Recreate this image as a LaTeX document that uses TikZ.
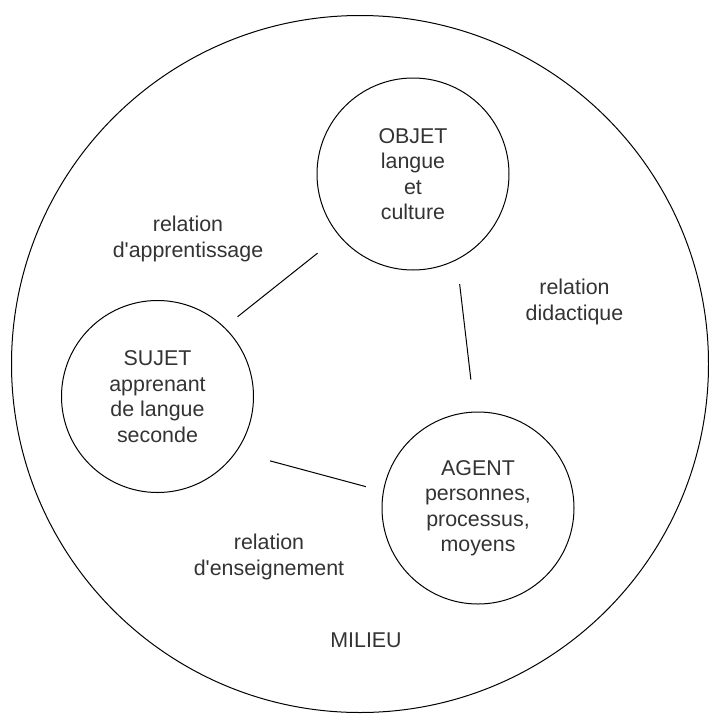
\documentclass[tikz,border=0pt]{standalone}
\usepackage{fontspec}
\setmainfont{Liberation Sans}
\usepackage{tikz}
\usetikzlibrary{positioning}

\begin{document}
\begin{tikzpicture}[
		x=1pt, y=-1pt,
		font=\fontsize{21.4}{25.5}\selectfont,
		pole/.style={circle, draw, line width=1pt, minimum size=192pt, inner sep=0pt, align=center, text=black!80},
		milieu/.style={circle, draw, line width=1pt, minimum size=697pt, inner sep=0pt},
		lbl/.style={align=center, text=black!80},
		rel/.style={line width=1pt}
	]
	\useasboundingbox (0,0) rectangle (709,715);
	\node[milieu] (env) at (360,364) {};

	\node[pole] (objet) at (413,174) {OBJET\\ langue\\ et\\ culture};
	\node[pole] (sujet) at (157.5,396.5) {SUJET\\ apprenant\\ de langue\\ seconde};
	\node[pole] (agent) at (478,508) {AGENT\\ personnes,\\ processus,\\ moyens};

	\node[lbl] (appr) at (188,239) {relation\\ d\textquotesingle apprentissage};
	\node[lbl] (didac) at (574.5,302) {relation\\ didactique};
	\node[lbl] (ens) at (269,557) {relation\\ d\textquotesingle enseignement};
	\node[lbl] (mil) at (366,640) {MILIEU};

	\draw[rel, shorten <=27.5pt, shorten >=16.6pt] (objet.220) -- (sujet.46.5);
	\draw[rel, shorten <=24.2pt, shorten >=32.2pt] (objet.297) -- (agent.92);
	\draw[rel, shorten <=34.7pt, shorten >=17.7pt] (sujet.325) -- (agent.170);
\end{tikzpicture}
\end{document}
